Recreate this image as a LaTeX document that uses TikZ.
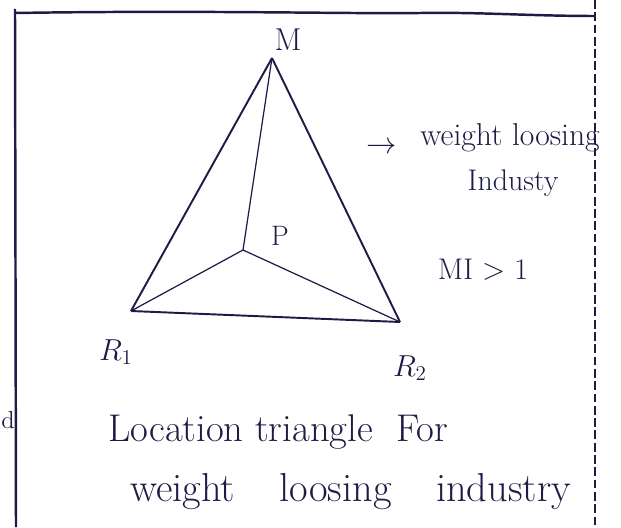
\documentclass[tikz,border=0pt]{standalone}
\definecolor{ink}{RGB}{28,28,70}
\tikzset{
  frameline/.style={draw=ink, line width=1.4pt},
  edgeline/.style={draw=ink, line width=1.1pt},
  thinedge/.style={draw=ink, line width=0.7pt},
  hand/.style={text=ink, inner sep=0pt, anchor=center}
}
\begin{document}
\begin{tikzpicture}[x=0.02cm, y=-0.02cm]
\useasboundingbox (0,0) rectangle (621,527);
% frame
\coordinate (TL) at (15,13);
\coordinate (TR) at (595,16);
\coordinate (BL) at (16,527);
\coordinate (RT) at (595,0);
\coordinate (RB) at (595,527);
\draw[frameline] (15,9) -- (BL);
\draw[frameline] (TL) .. controls (200,10) and (350,14) .. (420,13) .. controls (480,12) and (530,16) .. (TR);
\draw[draw=ink, line width=0.8pt, dash pattern=on 5pt off 2pt] (RT) -- (RB);
% triangle points
\coordinate (M) at (272,58);
\coordinate (R1) at (131,311);
\coordinate (R2) at (400,322);
\coordinate (P) at (243,250);
\draw[edgeline] (M) -- (R1);
\draw[edgeline] (M) -- (R2);
\draw[edgeline] (R1) -- (R2);
\draw[thinedge] (M) -- (P);
\draw[thinedge] (P) -- (R1);
\draw[thinedge] (P) -- (R2);
% labels
\node[hand, font=\fontsize{18}{21}\selectfont] (lM) at (288,40) {M};
\node[hand, font=\fontsize{16}{19}\selectfont] (lP) at (280,236) {P};
\node[hand, font=\fontsize{18}{21}\selectfont] (lR1) at (116,352) {$R_1$};
\node[hand, font=\fontsize{18}{21}\selectfont] (lR2) at (410,368) {$R_2$};
% side note
\node[hand, font=\fontsize{17}{20}\selectfont] (arr) at (382,148) {$\rightarrow$};
\node[hand, font=\fontsize{18}{21}\selectfont, anchor=west] (wl) at (420,138) {weight loosing};
\node[hand, font=\fontsize{17}{20}\selectfont] (ind) at (513,183) {Industy};
\node[hand, font=\fontsize{17}{20}\selectfont] (mi) at (483,270) {MI $>$ 1};
% caption
\node[hand, font=\fontsize{22}{26}\selectfont, anchor=west] (c1) at (108,432) {Location triangle\ \ For};
\node[hand, font=\fontsize{23}{27}\selectfont, anchor=west] (c2) at (130,492) {weight\hspace{1.1em}loosing\hspace{1.1em}industry};
\node[hand, font=\fontsize{14}{17}\selectfont] (d) at (8,420) {d};
\end{tikzpicture}
\end{document}
